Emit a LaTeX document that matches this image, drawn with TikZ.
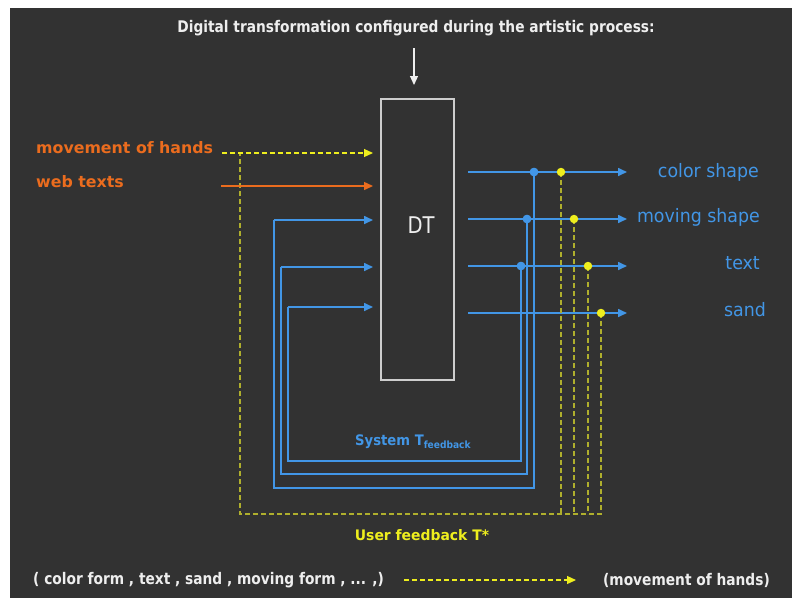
\documentclass[tikz,border=0pt]{standalone}
\usepackage{fontspec}
\usepackage{graphicx}
\setmainfont{DejaVu Sans}
\usetikzlibrary{arrows.meta}

\definecolor{bg}{RGB}{50,50,50}
\definecolor{frameW}{RGB}{205,205,205}
\definecolor{txtW}{RGB}{238,238,238}
\definecolor{orng}{RGB}{235,108,30}
\definecolor{blu}{RGB}{66,150,230}
\definecolor{yel}{RGB}{238,238,30}
\definecolor{yelline}{RGB}{175,175,45}

\newcommand\narrow[2]{\scalebox{#1}[1]{#2}}

\tikzset{
  tip/.style={-{Triangle[length=9pt,width=8pt]}},
  bluline/.style={draw=blu,line width=1.6pt},
  blarrow/.style={bluline,tip},
  orarrow/.style={draw=orng,line width=1.4pt,tip},
  ydash/.style={draw=yelline,line width=1.2pt,dash pattern=on 5pt off 3pt},
  yarrow/.style={draw=yel,line width=1.2pt,dash pattern=on 5pt off 3pt,-{Triangle[length=9pt,width=8pt,sep=0pt]}},
  bdot/.style={circle,fill=blu,inner sep=0pt,minimum size=8.5pt},
  ydot/.style={circle,fill=yel,inner sep=0pt,minimum size=8.5pt},
  dtbox/.style={draw=frameW,line width=1.5pt,minimum width=73pt,minimum height=281pt,inner sep=0pt},
  outlbl/.style={text=blu,font=\fontsize{18.5}{20}\selectfont,inner sep=0pt},
  inlbl/.style={text=orng,font=\bfseries\fontsize{15.8}{18}\selectfont,inner sep=0pt,anchor=west},
  wlbl/.style={text=txtW,font=\bfseries\fontsize{16}{18}\selectfont,inner sep=0pt},
}

\begin{document}
\begin{tikzpicture}[x=1pt,y=-1pt]
  % canvas with white margin at top and left
  \fill[white] (0,0) rectangle (792,598);
  \fill[bg] (10,8) rectangle (792,598);
  \useasboundingbox (0,0) rectangle (792,598);

  % heading and the transformation block
  \node[wlbl] (title) at (416,28)
    {\narrow{0.86}{Digital transformation configured during the artistic process:}};
  \node[dtbox] (DT) at (417.5,239.5) {};
  \node[text=txtW,font=\fontsize{23}{26}\selectfont,inner sep=0pt] (dtlbl) at (421,225) {\narrow{0.85}{DT}};
  \coordinate (topS) at (414,48);
  \coordinate (topE) at (414,85);
  \draw[draw=txtW,line width=1.2pt,tip] (topS) -- (topE);

  % input labels
  \node[inlbl] (hands) at (36,148) {movement of hands};
  \node[inlbl] (web) at (36,182) {web texts};

  % input arrow end points, left of the block
  \coordinate (inH) at (373,153);
  \coordinate (inW) at (373,186);
  \coordinate (inA) at (373,220);
  \coordinate (inB) at (373,267);
  \coordinate (inC) at (373,307);
  \coordinate (hStart) at (222,153);
  \coordinate (wStart) at (221,186);

  % output lines leave the block
  \coordinate (o1) at (468,172);
  \coordinate (o2) at (468,219);
  \coordinate (o3) at (468,266);
  \coordinate (o4) at (468,313);
  \coordinate (t1) at (627,172);
  \coordinate (t2) at (627,219);
  \coordinate (t3) at (627,266);
  \coordinate (t4) at (627,313);

  % output labels
  \node[outlbl,anchor=east] (lcolor) at (759,172) {\narrow{0.94}{color shape}};
  \node[outlbl,anchor=east] (lmove) at (760,217) {\narrow{0.94}{moving shape}};
  \node[outlbl,anchor=east] (ltext) at (760,263) {\narrow{0.94}{text}};
  \node[outlbl,anchor=east] (lsand) at (766,310) {\narrow{0.94}{sand}};

  % junction dots on the outputs
  \node[bdot] (b1) at (534,172) {};
  \node[bdot] (b2) at (527,219) {};
  \node[bdot] (b3) at (521,266) {};

  % system feedback loops (blue)
  \draw[bluline] (b1.center) -- (534,488) -- (274,488) -- (274,220);
  \draw[bluline] (b2.center) -- (527,474) -- (281,474) -- (281,267);
  \draw[bluline] (b3.center) -- (521,461) -- (288,461) -- (288,307);
  \draw[blarrow] (274,220) -- (inA);
  \draw[blarrow] (281,267) -- (inB);
  \draw[blarrow] (288,307) -- (inC);

  % outputs
  \draw[blarrow] (o1) -- (t1);
  \draw[blarrow] (o2) -- (t2);
  \draw[blarrow] (o3) -- (t3);
  \draw[blarrow] (o4) -- (t4);
  \node[bdot] at (b1) {};
  \node[bdot] at (b2) {};
  \node[bdot] at (b3) {};

  % user feedback loop (yellow, dashed)
  \coordinate (y1) at (561,172);
  \coordinate (y2) at (574,219);
  \coordinate (y3) at (588,266);
  \coordinate (y4) at (601,313);
  \draw[ydash] (y1) -- (561,514);
  \draw[ydash] (y2) -- (574,514);
  \draw[ydash] (y3) -- (588,514);
  \draw[ydash] (y4) -- (601,514) -- (240,514) -- (240,153);
  \node[ydot] (yd1) at (y1) {};
  \node[ydot] (yd2) at (y2) {};
  \node[ydot] (yd3) at (y3) {};
  \node[ydot] (yd4) at (y4) {};

  % inputs
  \draw[yarrow] (hStart) -- (inH);
  \draw[orarrow] (wStart) -- (inW);

  % loop captions
  \node[text=blu,font=\bfseries\fontsize{14.5}{16}\selectfont,inner sep=0pt,anchor=west] (sysT) at (355,442)
    {\narrow{0.91}{System T\textsubscript{\fontsize{10}{10}\selectfont feedback}}};
  \node[text=yel,font=\bfseries\fontsize{14.5}{16}\selectfont,inner sep=0pt] (userT) at (422,535)
    {\narrow{0.96}{User feedback T*}};

  % legend line
  \node[wlbl,anchor=west] (lgL) at (33,580)
    {\narrow{0.86}{( color form , text , sand , moving form , ... ,)}};
  \node[wlbl,anchor=east] (lgR) at (770,580)
    {\narrow{0.86}{(movement of hands)}};
  \coordinate (lgS) at (404,580);
  \coordinate (lgE) at (576,580);
  \draw[yarrow] (lgS) -- (lgE);
\end{tikzpicture}
\end{document}
